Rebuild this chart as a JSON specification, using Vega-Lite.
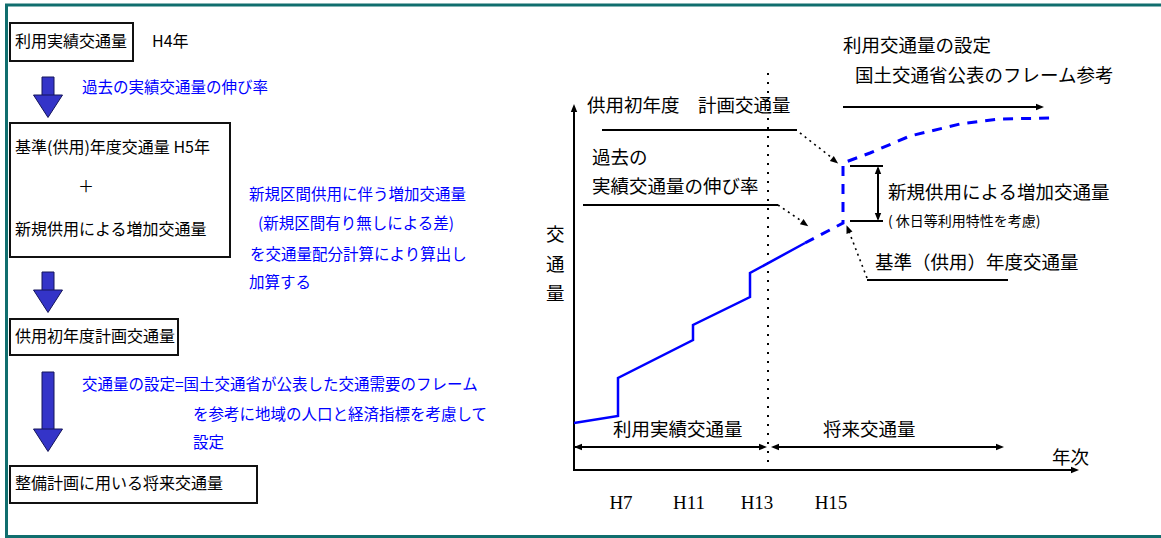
{
  "$schema": "https://vega.github.io/schema/vega-lite/v6.json",
  "autosize": {"type": "none"},
  "width": 1161,
  "height": 538,
  "padding": 0,
  "background": "white",
  "config": {"view": {"stroke": null}},
  "datasets": {
    "border": [
      {"x": 5, "y": 5, "x2": 1161, "y2": 5},
      {"x": 6.5, "y": 5, "x2": 6.5, "y2": 537},
      {"x": 5, "y": 536.5, "x2": 1161, "y2": 536.5}
    ],
    "boxes": [
      {"x": 10, "y": 23, "x2": 133, "y2": 61},
      {"x": 10, "y": 123, "x2": 230, "y2": 257},
      {"x": 10, "y": 319, "x2": 178, "y2": 355},
      {"x": 10, "y": 466, "x2": 257, "y2": 503}
    ],
    "shafts": [
      {"x": 42, "x2": 54, "y": 77, "y2": 97},
      {"x": 42, "x2": 54, "y": 272, "y2": 292},
      {"x": 42, "x2": 54, "y": 372, "y2": 431}
    ],
    "heads": [
      {"x": 48, "y": 95},
      {"x": 48, "y": 290},
      {"x": 48, "y": 429}
    ],
    "boxText": [
      {"x": 15, "y": 42, "text": "利用実績交通量"},
      {"x": 152, "y": 42, "text": "H4年"},
      {"x": 15, "y": 148, "text": "基準(供用)年度交通量 H5年"},
      {"x": 78, "y": 187, "text": "＋"},
      {"x": 15, "y": 230, "text": "新規供用による増加交通量"},
      {"x": 15, "y": 337, "text": "供用初年度計画交通量"},
      {"x": 15, "y": 484, "text": "整備計画に用いる将来交通量"}
    ],
    "blueText": [
      {"x": 82, "y": 88, "text": "過去の実績交通量の伸び率"},
      {"x": 249, "y": 195, "text": "新規区間供用に伴う増加交通量"},
      {"x": 258, "y": 224, "text": "(新規区間有り無しによる差)"},
      {"x": 250, "y": 255, "text": "を交通量配分計算により算出し"},
      {"x": 249, "y": 283, "text": "加算する"},
      {"x": 82, "y": 385, "text": "交通量の設定=国土交通省が公表した交通需要のフレーム"},
      {"x": 193, "y": 415, "text": "を参考に地域の人口と経済指標を考慮して"},
      {"x": 193, "y": 443, "text": "設定"}
    ],
    "chartText": [
      {"x": 587, "y": 106, "text": "供用初年度　計画交通量"},
      {"x": 592, "y": 158, "text": "過去の"},
      {"x": 592, "y": 187, "text": "実績交通量の伸び率"},
      {"x": 888, "y": 193, "text": "新規供用による増加交通量"},
      {"x": 875, "y": 263, "text": "基準（供用）年度交通量"},
      {"x": 613, "y": 430, "text": "利用実績交通量"},
      {"x": 823, "y": 430, "text": "将来交通量"},
      {"x": 843, "y": 46, "text": "利用交通量の設定"},
      {"x": 855, "y": 76, "text": "国土交通省公表のフレーム参考"},
      {"x": 1052, "y": 458, "text": "年次"},
      {"x": 546, "y": 235, "text": "交"},
      {"x": 546, "y": 265, "text": "通"},
      {"x": 546, "y": 294, "text": "量"}
    ],
    "smallText": [
      {"x": 888, "y": 222, "text": "( 休日等利用特性を考慮)"}
    ],
    "ticks": [
      {"x": 621, "y": 503, "text": "H7"},
      {"x": 689, "y": 503, "text": "H11"},
      {"x": 757, "y": 503, "text": "H13"},
      {"x": 831, "y": 503, "text": "H15"}
    ],
    "solid": [
      {"x": 574, "y": 107, "x2": 574, "y2": 471},
      {"x": 573, "y": 470, "x2": 1075, "y2": 470},
      {"x": 843, "y": 107, "x2": 1040, "y2": 107},
      {"x": 602, "y": 130, "x2": 797, "y2": 130},
      {"x": 583, "y": 205, "x2": 778, "y2": 205},
      {"x": 867, "y": 280, "x2": 1008, "y2": 280},
      {"x": 850, "y": 166, "x2": 883, "y2": 166},
      {"x": 850, "y": 221, "x2": 883, "y2": 221},
      {"x": 878, "y": 168, "x2": 878, "y2": 219},
      {"x": 575, "y": 447, "x2": 764, "y2": 447},
      {"x": 774, "y": 447, "x2": 1000, "y2": 447}
    ],
    "dotted": [
      {"x": 800, "y": 133, "x2": 836, "y2": 161},
      {"x": 778, "y": 205, "x2": 806, "y2": 224},
      {"x": 867, "y": 278, "x2": 848, "y2": 229}
    ],
    "divider": [
      {"x": 768, "y": 73, "x2": 768, "y2": 468}
    ],
    "arrowheads": [
      {"x": 1075, "y": 470, "a": 0},
      {"x": 1040, "y": 107, "a": 0},
      {"x": 1000, "y": 447, "a": 0},
      {"x": 763, "y": 447, "a": 0},
      {"x": 775, "y": 447, "a": 180},
      {"x": 578, "y": 447, "a": 180},
      {"x": 574, "y": 108, "a": 270},
      {"x": 878, "y": 170, "a": 270},
      {"x": 878, "y": 217, "a": 90},
      {"x": 835, "y": 161, "a": 38},
      {"x": 805, "y": 224, "a": 35},
      {"x": 848, "y": 229, "a": 248}
    ],
    "blueSolid": [
      {"i": 0, "x": 574, "y": 423},
      {"i": 1, "x": 618, "y": 416},
      {"i": 2, "x": 618, "y": 378},
      {"i": 3, "x": 693, "y": 340},
      {"i": 4, "x": 693, "y": 325},
      {"i": 5, "x": 750, "y": 297},
      {"i": 6, "x": 750, "y": 273},
      {"i": 7, "x": 805, "y": 243}
    ],
    "blueDash": [
      {"i": 0, "x": 805, "y": 243},
      {"i": 1, "x": 843, "y": 223},
      {"i": 2, "x": 843, "y": 163},
      {"i": 3, "x": 870, "y": 153},
      {"i": 4, "x": 910, "y": 136},
      {"i": 5, "x": 960, "y": 124},
      {"i": 6, "x": 1000, "y": 119},
      {"i": 7, "x": 1055, "y": 118}
    ]
  },
  "encoding": {
    "x": {"field": "x", "type": "quantitative", "scale": {"domain": [0, 1161], "nice": false, "zero": false}, "axis": null},
    "y": {"field": "y", "type": "quantitative", "scale": {"domain": [0, 538], "nice": false, "zero": false, "reverse": true}, "axis": null}
  },
  "layer": [
    {
      "data": {"name": "border"},
      "mark": {"type": "rule", "color": "#106e6e", "strokeWidth": 3},
      "encoding": {"x2": {"field": "x2"}, "y2": {"field": "y2"}}
    },
    {
      "data": {"name": "boxes"},
      "mark": {"type": "rect", "fill": "white", "stroke": "#111111", "strokeWidth": 2},
      "encoding": {"x2": {"field": "x2"}, "y2": {"field": "y2"}}
    },
    {
      "data": {"name": "shafts"},
      "mark": {"type": "rect", "fill": "#3434c8", "stroke": "#15155a", "strokeWidth": 1},
      "encoding": {"x2": {"field": "x2"}, "y2": {"field": "y2"}}
    },
    {
      "data": {"name": "heads"},
      "mark": {"type": "point", "shape": "M-1,0L1,0L0,1.55Z", "size": 841, "filled": true, "opacity": 1, "fill": "#3434c8", "stroke": "#15155a", "strokeWidth": 1},
      "encoding": {}
    },
    {
      "data": {"name": "boxText"},
      "mark": {"type": "text", "align": "left", "baseline": "middle", "font": "Noto Sans CJK JP", "fontSize": 16, "color": "#000000"},
      "encoding": {"text": {"field": "text"}}
    },
    {
      "data": {"name": "blueText"},
      "mark": {"type": "text", "align": "left", "baseline": "middle", "font": "Noto Sans CJK JP", "fontSize": 15.5, "color": "#0000ff"},
      "encoding": {"text": {"field": "text"}}
    },
    {
      "data": {"name": "chartText"},
      "mark": {"type": "text", "align": "left", "baseline": "middle", "font": "Noto Sans CJK JP", "fontSize": 18.5, "color": "#000000"},
      "encoding": {"text": {"field": "text"}}
    },
    {
      "data": {"name": "smallText"},
      "mark": {"type": "text", "align": "left", "baseline": "middle", "font": "Noto Sans CJK JP", "fontSize": 14, "color": "#000000"},
      "encoding": {"text": {"field": "text"}}
    },
    {
      "data": {"name": "ticks"},
      "mark": {"type": "text", "align": "center", "baseline": "middle", "font": "Liberation Serif", "fontSize": 19, "color": "#000000"},
      "encoding": {"text": {"field": "text"}}
    },
    {
      "data": {"name": "divider"},
      "mark": {"type": "rule", "color": "#000000", "strokeWidth": 2, "strokeDash": [2, 7]},
      "encoding": {"x2": {"field": "x2"}, "y2": {"field": "y2"}}
    },
    {
      "data": {"name": "solid"},
      "mark": {"type": "rule", "color": "#000000", "strokeWidth": 2},
      "encoding": {"x2": {"field": "x2"}, "y2": {"field": "y2"}}
    },
    {
      "data": {"name": "dotted"},
      "mark": {"type": "rule", "color": "#000000", "strokeWidth": 1.6, "strokeDash": [2, 4]},
      "encoding": {"x2": {"field": "x2"}, "y2": {"field": "y2"}}
    },
    {
      "data": {"name": "blueSolid"},
      "mark": {"type": "line", "color": "#0000ff", "strokeWidth": 2.5, "interpolate": "linear"},
      "encoding": {"order": {"field": "i", "type": "quantitative"}}
    },
    {
      "data": {"name": "blueDash"},
      "mark": {"type": "line", "color": "#0000ff", "strokeWidth": 3, "strokeDash": [10, 8], "interpolate": "linear"},
      "encoding": {"order": {"field": "i", "type": "quantitative"}}
    },
    {
      "data": {"name": "arrowheads"},
      "mark": {"type": "point", "shape": "M1,0L-1,-0.8L-1,0.8Z", "size": 64, "filled": true, "opacity": 1, "color": "#000000"},
      "encoding": {"angle": {"field": "a", "type": "quantitative", "scale": null}}
    }
  ]
}
